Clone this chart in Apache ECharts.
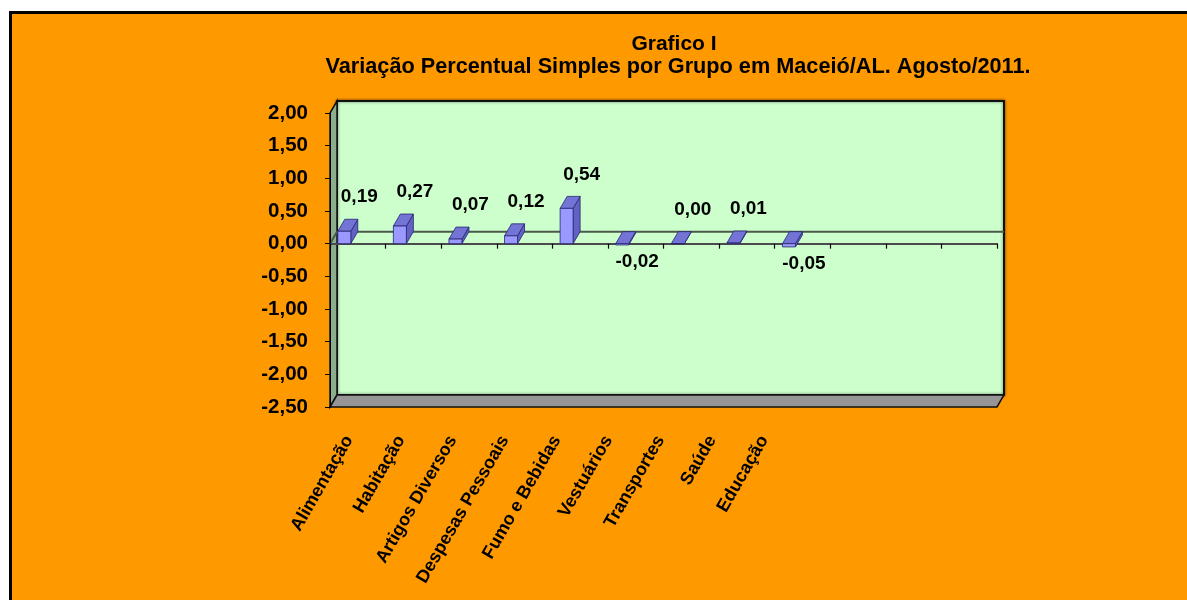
<!DOCTYPE html>
<html><head><meta charset="utf-8">
<script src="https://cdn.jsdelivr.net/npm/echarts@6/dist/echarts.min.js"></script>
<style>html,body{margin:0;padding:0;background:#fff}#c{width:1187px;height:600px}</style>
</head><body><div id="c"></div>
<script>
// ---- data ----
const categories = ['Alimentação','Habitação','Artigos Diversos','Despesas Pessoais','Fumo e Bebidas','Vestuários','Transportes','Saúde','Educação','','',''];
const values = [0.19, 0.27, 0.07, 0.12, 0.54, -0.02, 0.00, 0.01, -0.05];
const yMin = -2.5, yMax = 2.0, yStep = 0.5;
const titleText = 'Grafico I';
const subtitleText = 'Variação Percentual Simples por Grupo em Maceió/AL. Agosto/2011.';

// ---- layout ----
const W = 1187, H = 600;
const G = {left: 330, top: 113, right: 190, bottom: 193};
const L = G.left, T = G.top, R = W - G.right, B = H - G.bottom;
const DX = 7, DY = -12;
const FONT = '"Liberation Sans", Arial, sans-serif';
const fmt = v => v.toFixed(2).replace('.', ',');
const y0 = T + (yMax - 0) / (yMax - yMin) * (B - T);
const LBL_STEP = 51.9, LBL_LEFT = 349 - LBL_STEP / 2;

function renderItem(params, api) {
  const i = api.value(0), v = api.value(1);
  const band = api.size([1, 0])[0];
  const pz = api.coord([i, 0]), pv = api.coord([i, v]);
  const x0 = pz[0] - band * 0.36, x1 = x0 + 13;
  const yTop = Math.min(pz[1], pv[1]), yBot = Math.max(pz[1], pv[1]);
  const st = {stroke: '#26266e', lineWidth: 0.8};
  const cx = (x0 + x1) / 2 + 15;
  const ty = v >= 0 ? yTop + DY - 22 : yBot + 17;
  return {type: 'group', children: [
    {type: 'polygon', shape: {points: [[x1, yTop], [x1 + DX, yTop + DY], [x1 + DX, yBot + DY], [x1, yBot]]}, style: Object.assign({fill: '#6262C4'}, st)},
    {type: 'polygon', shape: {points: [[x0, yTop], [x0 + DX, yTop + DY], [x1 + DX, yTop + DY], [x1, yTop]]}, style: Object.assign({fill: '#7474D6'}, st)},
    {type: 'rect', shape: {x: x0, y: yTop, width: x1 - x0, height: yBot - yTop}, style: Object.assign({fill: '#9999FF'}, st)},
    {type: 'text', style: {text: fmt(v), x: cx, y: ty, align: 'center', verticalAlign: 'middle',
      fontSize: 19, fontWeight: 'bold', fontFamily: FONT, fill: '#000'}}
  ]};
}

const chart = echarts.init(document.getElementById('c'), null, {renderer: 'canvas'});
chart.setOption({
  backgroundColor: '#ffffff',
  animation: false,
  grid: [
    {left: G.left, top: G.top, right: G.right, bottom: G.bottom, containLabel: false},
    {left: LBL_LEFT, top: G.top, width: LBL_STEP * categories.length, bottom: G.bottom, containLabel: false}
  ],
  xAxis: [
    {type: 'category', gridIndex: 0, data: categories, boundaryGap: true, z: 10,
     axisLine: {onZero: true, lineStyle: {color: '#4a4a4a', width: 2}},
     axisTick: {show: true, inside: false, length: 5, interval: 0, lineStyle: {color: '#000', width: 1.2}},
     axisLabel: {show: false}, splitLine: {show: false}},
    {type: 'category', gridIndex: 1, data: categories, boundaryGap: true, position: 'bottom',
     axisLine: {show: false, onZero: false}, axisTick: {show: false},
     axisLabel: {show: true, interval: 0, rotate: 60, margin: 30, color: '#000',
       fontSize: 18, fontWeight: 'bold', fontFamily: FONT}}
  ],
  yAxis: [
    {type: 'value', gridIndex: 0, min: yMin, max: yMax, interval: yStep, z: 10,
     axisLine: {show: true, lineStyle: {color: '#000', width: 1}},
     axisTick: {show: true, length: 5, lineStyle: {color: '#000'}},
     splitLine: {show: false},
     axisLabel: {margin: 22, color: '#000', fontSize: 20.5, fontWeight: 'bold', fontFamily: FONT, formatter: v => fmt(v)}},
    {type: 'value', gridIndex: 1, min: yMin, max: yMax, show: false}
  ],
  graphic: {elements: [
    {type: 'rect', z: -100, shape: {x: 10.5, y: 12.5, width: 1200, height: 600},
     style: {fill: '#FF9900', stroke: '#000', lineWidth: 3}},
    {type: 'rect', z: -50, shape: {x: L + DX, y: T + DY, width: R - L, height: B - T},
     style: {fill: '#CCFFCC', stroke: '#111', lineWidth: 2, shadowBlur: 3, shadowColor: 'rgba(0,0,0,0.5)'}},
    {type: 'polygon', z: -45, shape: {points: [[L, T], [L + DX, T + DY], [L + DX, B + DY], [L, B]]},
     style: {fill: '#8DAE8D', stroke: '#111', lineWidth: 1.5}},
    {type: 'polygon', z: -45, shape: {points: [[L, B], [L + DX, B + DY], [R + DX, B + DY], [R, B]]},
     style: {fill: '#969696', stroke: '#111', lineWidth: 1.5}},
    {type: 'polyline', z: -40, shape: {points: [[L, y0], [L + DX, y0 + DY], [R + DX, y0 + DY]]},
     style: {stroke: '#4a5a4a', lineWidth: 2, fill: null}},
    {type: 'text', x: 674, y: 44, z: 20, style: {text: titleText, align: 'center', verticalAlign: 'middle',
      fontSize: 21, fontWeight: 'bold', fontFamily: FONT, fill: '#000'}},
    {type: 'text', x: 678, y: 67, z: 20, style: {text: subtitleText, align: 'center', verticalAlign: 'middle',
      fontSize: 21.7, fontWeight: 'bold', fontFamily: FONT, fill: '#000'}}
  ]},
  series: [{
    type: 'custom', xAxisIndex: 0, yAxisIndex: 0, z: 20, clip: false,
    renderItem: renderItem,
    encode: {x: 0, y: 1},
    data: values.map((v, i) => [i, v])
  }]
});
</script></body></html>
